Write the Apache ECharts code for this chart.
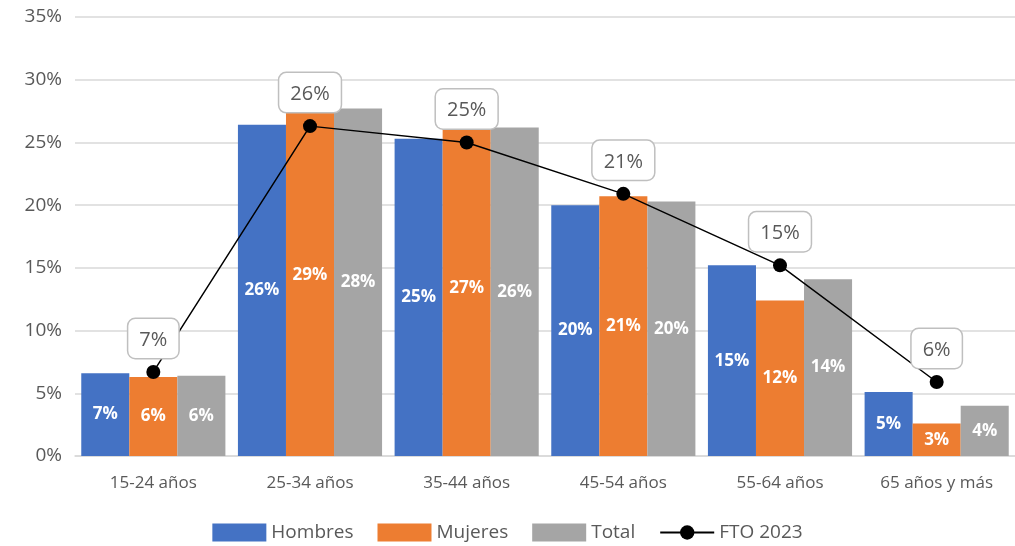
<!DOCTYPE html>
<html><head><meta charset="utf-8">
<script src="https://cdn.jsdelivr.net/npm/echarts@6/dist/echarts.min.js"></script>
<style>html,body{margin:0;padding:0;background:#fff}#c{width:1015px;height:546px}</style>
</head><body><div id="c"></div>
<script>
const categories = ['15-24 años','25-34 años','35-44 años','45-54 años','55-64 años','65 años y más'];
const hombres = [6.6, 26.4, 25.3, 20.0, 15.2, 5.1];
const mujeres = [6.3, 28.8, 26.8, 20.7, 12.4, 2.6];
const total = [6.4, 27.7, 26.2, 20.3, 14.1, 4.0];
const fto2023 = [6.7, 26.3, 25.0, 20.9, 15.2, 5.9];
const yTicks = [0,5,10,15,20,25,30,35];

const font = '"Open Sans", sans-serif';
const pct = p => Math.round(p.value) + '%';
const barLabel = {show:true, position:'inside', color:'#fff', fontWeight:'bold', fontSize:17, fontFamily:font, formatter:pct};
function bar(name, data, color){
  return {name, type:'bar', data, barGap:'0%', barCategoryGap:'8%', itemStyle:{color}, label:barLabel, z:2};
}
const chart = echarts.init(document.getElementById('c'));
chart.setOption({
  animation:false,
  textStyle:{fontFamily:font},
  grid:{left:75, right:0, top:17, bottom:90, containLabel:false},
  legend:{bottom:-1, left:'center', itemWidth:54, itemHeight:18, itemGap:24,
    textStyle:{color:'#595959', fontSize:19, fontFamily:font},
    data:[{name:'Hombres', icon:'rect'},{name:'Mujeres', icon:'rect'},{name:'Total', icon:'rect'},'FTO 2023']},
  xAxis:{type:'category', data:categories,
    axisLine:{lineStyle:{color:'#d9d9d9', width:1.5}}, axisTick:{show:false},
    axisLabel:{color:'#595959', fontSize:17, margin:19, fontFamily:font}},
  yAxis:{type:'value', min:yTicks[0], max:yTicks[yTicks.length-1], interval:5,
    axisLine:{show:false}, axisTick:{show:false},
    splitLine:{lineStyle:{color:'#d9d9d9', width:1.5}},
    axisLabel:{color:'#595959', fontSize:19, margin:13, formatter:v=>v+'%', fontFamily:font}},
  series:[
    bar('Hombres', hombres, '#4472C4'),
    bar('Mujeres', mujeres, '#ED7D31'),
    bar('Total', total, '#A5A5A5'),
    {name:'FTO 2023', type:'line', data:fto2023, z:5,
     symbol:'circle', symbolSize:14,
     lineStyle:{color:'#000', width:1.5}, itemStyle:{color:'#000'},
     label:{show:true, position:'top', distance:7, formatter:pct,
       color:'#595959', fontSize:20, fontFamily:font,
       backgroundColor:'#fff', borderColor:'#bfbfbf', borderWidth:1.5, borderRadius:7,
       padding:[11,11,8,11]}}
  ]
});
</script></body></html>
